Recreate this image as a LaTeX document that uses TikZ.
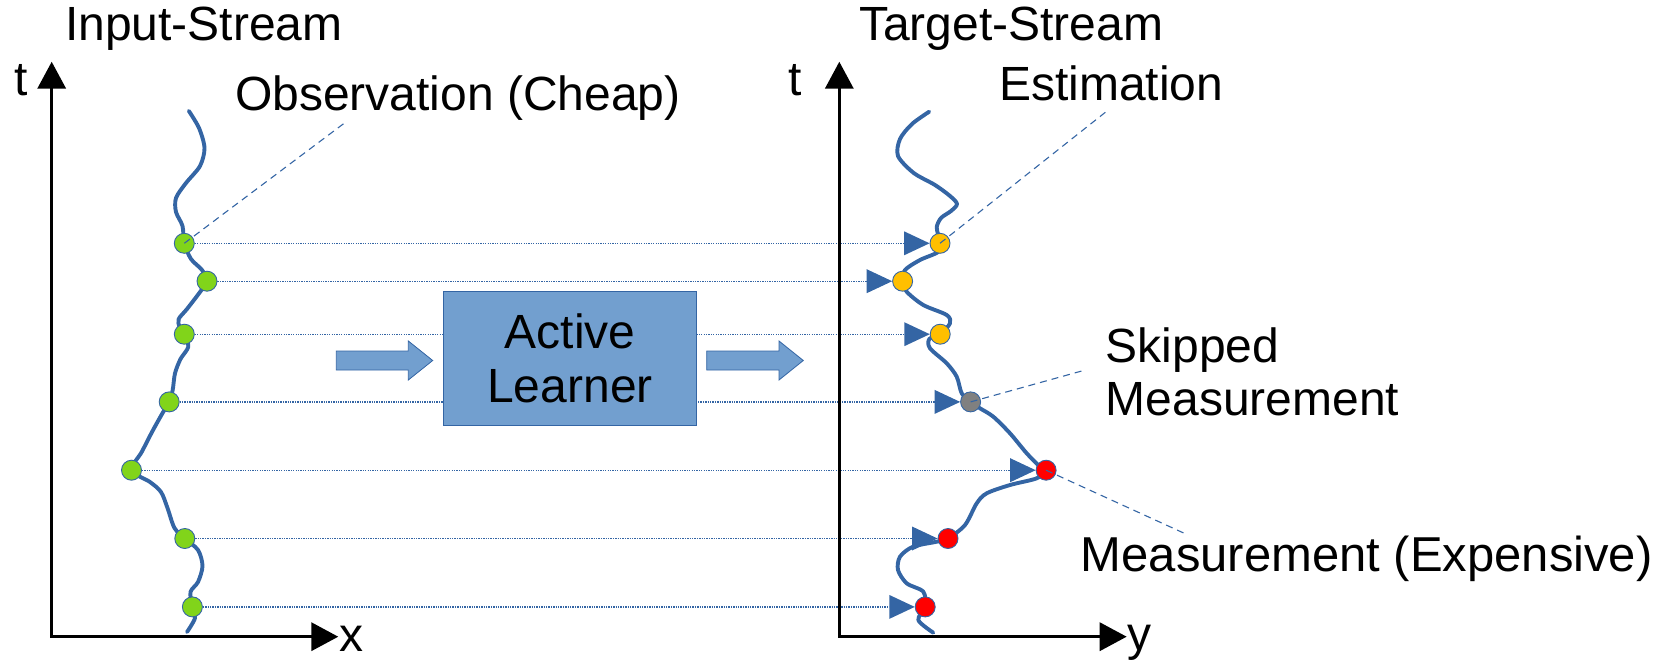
\documentclass[tikz,border=0pt]{standalone}
\usepackage{fontspec}
\setmainfont{Liberation Sans}
\usetikzlibrary{arrows.meta,calc}
\pgfdeclarelayer{bg}
\pgfsetlayers{bg,main}
\definecolor{lineblue}{HTML}{3465A4}
\definecolor{boxblue}{HTML}{729FCF}
\definecolor{obsgreen}{HTML}{81D41A}
\definecolor{estgold}{HTML}{FFBF00}
\definecolor{skipgray}{HTML}{808080}
\definecolor{measred}{HTML}{FF0000}
\begin{document}
\begin{tikzpicture}[x=1pt,y=-1pt,
  lbl/.style={font=\fontsize{48}{53}\selectfont, inner sep=0pt, anchor=base west},
  axisline/.style={line width=3.5pt, line join=miter,
    arrows={Triangle[length=27pt,width=28pt]-Triangle[length=27pt,width=28pt]}},
  stream/.style={lineblue, line width=3.9pt, line cap=round, line join=round},
  ptdot/.style={circle, draw=lineblue, line width=0.9pt, minimum size=20pt, inner sep=0pt},
  obsdot/.style={ptdot, fill=obsgreen},
  estdot/.style={ptdot, fill=estgold},
  skipdot/.style={ptdot, fill=skipgray},
  measdot/.style={ptdot, fill=measred},
  link/.style={lineblue, line width=1.4pt, dash pattern=on 1.3pt off 1.1pt},
  leader/.style={lineblue, line width=1.1pt, dash pattern=on 7pt off 5pt},
  marker/.style={fill=lineblue},
  blockarrow/.style={fill=boxblue, draw=lineblue, line width=0.8pt},
  learner/.style={draw=lineblue, fill=boxblue, line width=0.9pt,
    minimum width=253.4pt, minimum height=134pt, inner sep=0pt,
    align=center, font=\fontsize{48}{54}\selectfont},
]
\useasboundingbox (0,0) rectangle (1653,661);

% axes
\coordinate (ot1) at (51.7,61.7);
\coordinate (oo1) at (51.7,636.7);
\coordinate (ox1) at (338.3,636.7);
\coordinate (ot2) at (839.3,61.7);
\coordinate (oo2) at (839.3,636.7);
\coordinate (ox2) at (1126.7,636.7);
\draw[axisline] (ot1) -- (oo1) -- (ox1);
\draw[axisline] (ot2) -- (oo2) -- (ox2);

% learner box and block arrows
\node[learner] (al) at (570,358.7) {Active\\Learner};
\path[blockarrow] (336.3,351) -- (408.3,351) -- (408.3,341) -- (432.7,360.5)
  -- (408.3,380) -- (408.3,370) -- (336.3,370) -- cycle;
\path[blockarrow] (706.7,351) -- (779,351) -- (779,341) -- (803.3,360.5)
  -- (779,380) -- (779,370) -- (706.7,370) -- cycle;

% input stream
\draw[stream] plot[smooth, tension=0.5] coordinates {
  (188.8,110.9) (199,128) (204.5,148) (200,166) (186,183) (176,198) (176,212)
  (182.5,226) (184.3,243.3) (191,259) (202,270) (207,281.2) (200,292) (187,309)
  (178.7,319) (179.5,327) (184.3,334.2) (188.3,346.7) (180.5,359) (175,373.3)
  (172.7,390) (169.2,401.9) (162,414) (152,432) (141.7,452) (131.5,470.2)
  (150,482) (161,492) (167.5,508) (174.5,528) (184.8,538.5) (198,550)
  (202.5,566) (198,582) (190.5,592) (192.4,606.9) (195,618) (187,632)};

% target stream
\draw[stream] plot[smooth, tension=0.5] coordinates {
  (929.2,111.7) (912,124) (900,139) (898,156) (913.6,172.9) (935,185) (950,196)
  (957,204) (951,211) (941,218) (936.7,227) (938.3,235) (940,243.3) (938,252)
  (920,260) (905,270) (902.6,281.2) (906.7,291.7) (923.3,305) (946.7,315)
  (950,323.3) (940.2,334.2) (929.3,339) (930,348.3) (946.7,363.3) (956.7,376.7)
  (961.7,393.3) (970.6,401.9) (980,408.3) (993.3,416.7) (1010,433.3)
  (1026.7,453.3) (1040,466.7) (1046.1,470.2) (1036.7,478.3) (1010,485)
  (986.7,493.3) (976.7,503.3) (965,525) (948,538.5) (936.7,541.7) (913,546.7)
  (900,556.7) (898,570) (906.7,583.3) (923.3,591.7) (925.2,606.9) (918.3,620)
  (933.3,632.7)};

% observations
\node[obsdot] (g1) at (184.3,243.3) {};
\node[obsdot] (g2) at (207,281.2) {};
\node[obsdot] (g3) at (184.3,334.2) {};
\node[obsdot] (g4) at (169.2,401.9) {};
\node[obsdot] (g5) at (131.5,470.2) {};
\node[obsdot] (g6) at (184.8,538.5) {};
\node[obsdot] (g7) at (192.4,606.9) {};

% targets
\node[estdot] (t1) at (940,243.3) {};
\node[estdot] (t2) at (902.6,281.2) {};
\node[estdot] (t3) at (940.2,334.2) {};
\node[skipdot] (t4) at (970.6,401.9) {};
\node[measdot] (t5) at (1046.1,470.2) {};
\node[measdot] (t6) at (948,538.5) {};
\node[measdot] (t7) at (925.2,606.9) {};

% arrival markers and dotted links
\foreach \i in {1,...,7}{
  \coordinate (b\i) at ($(t\i.west)+(-25.5,0)$);
  \fill[marker] (t\i.west) -- ($(b\i)+(0,-12)$) -- ($(b\i)+(0,12)$) -- cycle;
  \begin{pgfonlayer}{bg}
    \draw[link] (g\i.east) -- (b\i);
  \end{pgfonlayer}
}

% leader lines
\coordinate (obsend) at (344.5,123);
\coordinate (estend) at (1107,111);
\coordinate (skipend) at (1081.7,371);
\coordinate (measend) at (1188,535);
\draw[leader] (g1.center) -- (obsend);
\draw[leader] (t1.center) -- (estend);
\draw[leader] (t4.center) -- (skipend);
\draw[leader] (t5.center) -- (measend);

% labels
\node[lbl] (inttl) at (65,40.7) {Input-Stream};
\node[lbl] (outttl) at (859,40.7) {Target-Stream};
\node[lbl] (tlft) at (14,95) {t};
\node[lbl] (trgt) at (788,95) {t};
\node[lbl] (xlbl) at (339.5,651.5) {x};
\node[lbl] (ylbl) at (1127,650) {y};
\node[lbl] (obslbl) at (235,110) {Observation (Cheap)};
\node[lbl] (estlbl) at (999,100) {Estimation};
\node[lbl, anchor=north west, align=left] (skiplbl) at (1105.5,328) {Skipped\\Measurement};
\node[lbl, font=\fontsize{49}{54}\selectfont] (measlbl) at (1080.5,571.5) {Measurement (Expensive)};
\end{tikzpicture}
\end{document}
